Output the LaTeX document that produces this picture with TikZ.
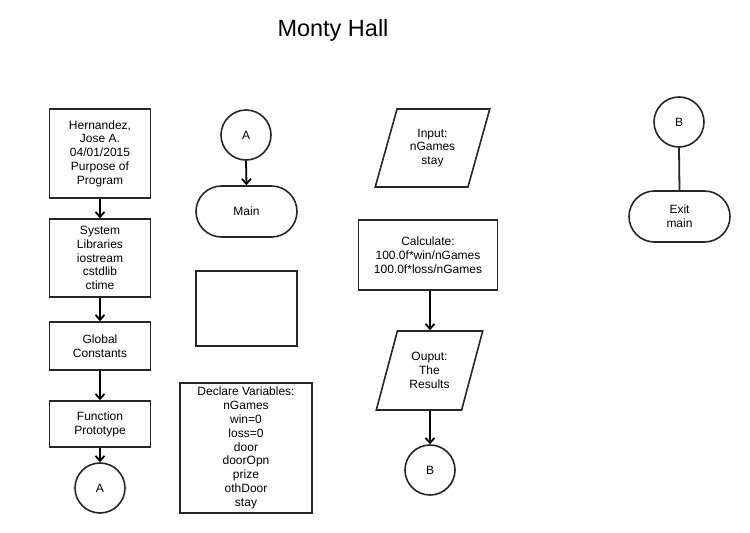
\documentclass[tikz,border=0pt]{standalone}
\usepackage{fontspec}
\setmainfont{Liberation Sans}
\usetikzlibrary{shapes.geometric,shapes.misc,arrows.meta}
\begin{document}
\begin{tikzpicture}[x=1pt,y=-1pt,
  every node/.style={font=\fontsize{12}{13.8}\selectfont, align=center, text=black, inner sep=0pt},
  shp/.style={draw=black!85, line width=1.6pt},
  procbox/.style={shp, rectangle},
  term/.style={shp, rounded rectangle, minimum width=101pt, minimum height=51pt},
  conn/.style={shp, circle, minimum size=50pt},
  iobox/.style={shp, trapezium, trapezium left angle=70, trapezium right angle=110, trapezium stretches=true},
  flow/.style={line width=1.8pt, draw=black, -{Straight Barb[length=5pt,width=9pt]}},
  plainline/.style={line width=1.8pt, draw=black!85}
]
\useasboundingbox (0,0) rectangle (750,533);
\node[font=\fontsize{23.5}{28}\selectfont, anchor=base] (title) at (333,36) {Monty Hall};

% column 1
\node[procbox, minimum width=101pt, minimum height=89pt] (b1) at (100,153.5) {Hernandez,\\Jose A.\\04/01/2015\\Purpose of\\Program};
\node[procbox, minimum width=101pt, minimum height=78pt] (b2) at (100,258) {System\\Libraries\\iostream\\cstdlib\\ctime};
\node[procbox, minimum width=101pt, minimum height=48pt] (b3) at (100,346) {Global\\Constants};
\node[procbox, minimum width=101pt, minimum height=46pt] (b4) at (100,424) {Function\\Prototype};
\node[conn] (a1) at (100,488) {A};
\draw[flow] (b1.south) -- (b2.north);
\draw[flow] (b2.south) -- (b3.north);
\draw[flow] (b3.south) -- (b4.north);
\draw[flow] (b4.south) -- (a1.north);

% column 2
\node[conn] (a2) at (246,135) {A};
\node[term] (main) at (246.5,211.5) {Main};
\draw[flow] (a2.south) -- (main.north);
\node[procbox, minimum width=101pt, minimum height=75pt] (empty) at (246.5,308.5) {};
\node[procbox, minimum width=132pt, minimum height=130pt] (decl) at (246,448) {Declare Variables:\\nGames\\win=0\\loss=0\\door\\doorOpn\\prize\\othDoor\\stay};

% column 3
\node[iobox, minimum width=115pt, minimum height=78pt] (inp) at (432.5,148) {Input:\\nGames\\stay};
\node[procbox, minimum width=139pt, minimum height=70pt] (calc) at (428,255) {Calculate:\\100.0f*win/nGames\\100.0f*loss/nGames};
\node[iobox, minimum width=107pt, minimum height=79pt] (outp) at (429.5,370.5) {Ouput:\\The\\Results};
\node[conn] (bb1) at (430,470) {B};
\draw[flow] (calc.south -| bb1.north) -- (bb1.north |- outp.north);
\draw[flow] (bb1.north |- outp.south) -- (bb1.north);

% column 4
\node[conn] (bb2) at (679,122) {B};
\node[term] (exit) at (679.5,216.5) {Exit\\main};
\draw[plainline] (bb2.south) -- (exit.north);
\end{tikzpicture}
\end{document}
